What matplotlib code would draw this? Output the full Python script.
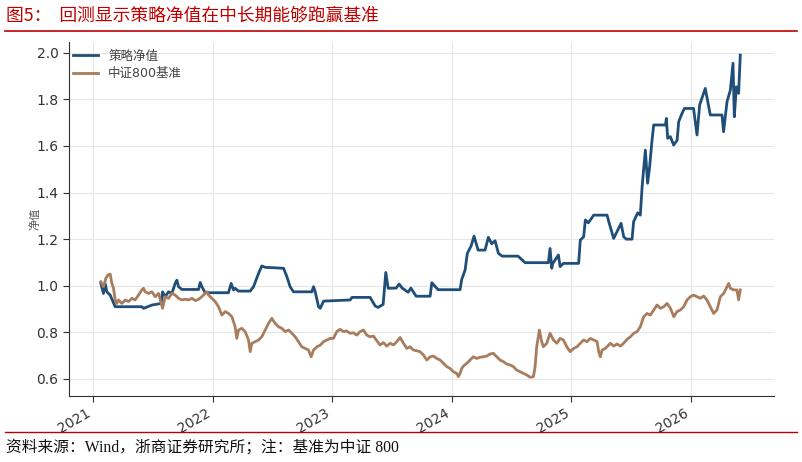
import matplotlib
matplotlib.use("Agg")
import matplotlib.pyplot as plt
import matplotlib.dates as mdates
from matplotlib.lines import Line2D
import pandas as pd

plt.rcParams['font.family'] = ['DejaVu Sans', 'Noto Sans CJK SC']
plt.rcParams['axes.unicode_minus'] = False

# 策略净值 (时间用小数年表示, 从图上读出)
strat_t = [2021.064, 2021.086, 2021.100, 2021.114, 2021.142, 2021.184, 2021.407, 2021.421,
           2021.491, 2021.569, 2021.580, 2021.602, 2021.630, 2021.658, 2021.686, 2021.700,
           2021.714, 2021.742, 2021.882, 2021.895, 2021.909, 2021.937, 2022.132, 2022.155,
           2022.174, 2022.188, 2022.216, 2022.314, 2022.342, 2022.384, 2022.411, 2022.439,
           2022.593, 2022.621, 2022.648, 2022.676, 2022.830, 2022.844, 2022.858, 2022.886,
           2022.900, 2022.928, 2023.151, 2023.167, 2023.318, 2023.360, 2023.385, 2023.427,
           2023.449, 2023.469, 2023.536, 2023.561, 2023.586, 2023.636, 2023.659, 2023.703,
           2023.820, 2023.834, 2023.887, 2024.071, 2024.085, 2024.113, 2024.132, 2024.163,
           2024.188, 2024.222, 2024.280, 2024.308, 2024.336, 2024.364, 2024.392, 2024.423,
           2024.556, 2024.615, 2024.810, 2024.824, 2024.838, 2024.847, 2024.894, 2024.908,
           2024.936, 2025.061, 2025.075, 2025.103, 2025.117, 2025.142, 2025.187, 2025.299,
           2025.313, 2025.354, 2025.416, 2025.438, 2025.460, 2025.508, 2025.521, 2025.555,
           2025.577, 2025.592, 2025.619, 2025.638, 2025.655, 2025.675, 2025.689, 2025.787,
           2025.795, 2025.806, 2025.828, 2025.856, 2025.885, 2025.898, 2025.926, 2025.946,
           2026.023, 2026.052, 2026.074, 2026.121, 2026.163, 2026.261, 2026.274, 2026.303,
           2026.331, 2026.353, 2026.364, 2026.381, 2026.400, 2026.414]
strat_v = [1.010, 0.967, 1.010, 0.974, 0.960, 0.910, 0.910, 0.903,
           0.917, 0.924, 0.974, 0.953, 0.974, 0.967, 1.010, 1.024,
           0.996, 0.984, 0.984, 1.014, 0.996, 0.970, 0.970, 1.010,
           0.982, 0.989, 0.977, 0.977, 0.996, 1.053, 1.085, 1.079,
           1.075, 1.039, 0.996, 0.974, 0.974, 0.996, 0.974, 0.910,
           0.903, 0.934, 0.939, 0.950, 0.950, 0.913, 0.907, 0.920,
           1.057, 0.989, 0.990, 1.007, 0.990, 0.972, 0.990, 0.955,
           0.955, 1.013, 0.983, 0.983, 1.027, 1.067, 1.139, 1.170,
           1.213, 1.153, 1.153, 1.208, 1.180, 1.193, 1.139, 1.127,
           1.127, 1.099, 1.099, 1.160, 1.075, 1.096, 1.132, 1.082,
           1.096, 1.096, 1.196, 1.210, 1.282, 1.270, 1.303, 1.303,
           1.275, 1.203, 1.268, 1.210, 1.200, 1.200, 1.275, 1.313,
           1.303, 1.425, 1.582, 1.440, 1.511, 1.625, 1.690, 1.690,
           1.718, 1.633, 1.640, 1.604, 1.625, 1.704, 1.740, 1.761,
           1.761, 1.647, 1.776, 1.847, 1.733, 1.733, 1.661, 1.790,
           1.840, 1.955, 1.725, 1.854, 1.826, 1.990]

# 中证800基准
bench_t = [2021.064, 2021.086, 2021.106, 2021.123, 2021.142, 2021.156, 2021.170, 2021.184,
           2021.198, 2021.212, 2021.240, 2021.268, 2021.296, 2021.324, 2021.351, 2021.379,
           2021.407, 2021.421, 2021.435, 2021.463, 2021.491, 2021.519, 2021.547, 2021.569,
           2021.580, 2021.602, 2021.630, 2021.658, 2021.686, 2021.714, 2021.742, 2021.770,
           2021.798, 2021.826, 2021.854, 2021.882, 2021.909, 2021.937, 2021.951, 2021.965,
           2021.993, 2022.021, 2022.049, 2022.077, 2022.105, 2022.133, 2022.161, 2022.188,
           2022.202, 2022.216, 2022.244, 2022.272, 2022.300, 2022.314, 2022.328, 2022.356,
           2022.384, 2022.411, 2022.439, 2022.467, 2022.495, 2022.523, 2022.551, 2022.579,
           2022.607, 2022.635, 2022.663, 2022.690, 2022.718, 2022.746, 2022.774, 2022.802,
           2022.824, 2022.844, 2022.872, 2022.900, 2022.928, 2022.955, 2022.983, 2023.011,
           2023.039, 2023.067, 2023.095, 2023.122, 2023.150, 2023.178, 2023.206, 2023.234,
           2023.262, 2023.290, 2023.318, 2023.346, 2023.374, 2023.401, 2023.429, 2023.457,
           2023.485, 2023.513, 2023.541, 2023.569, 2023.597, 2023.625, 2023.652, 2023.680,
           2023.708, 2023.736, 2023.764, 2023.792, 2023.820, 2023.848, 2023.876, 2023.904,
           2023.931, 2023.959, 2023.987, 2024.015, 2024.043, 2024.057, 2024.071, 2024.085,
           2024.099, 2024.127, 2024.155, 2024.182, 2024.210, 2024.238, 2024.266, 2024.294,
           2024.322, 2024.350, 2024.378, 2024.406, 2024.434, 2024.461, 2024.489, 2024.517,
           2024.545, 2024.573, 2024.601, 2024.629, 2024.657, 2024.685, 2024.699, 2024.712,
           2024.735, 2024.754, 2024.768, 2024.796, 2024.824, 2024.838, 2024.852, 2024.880,
           2024.908, 2024.936, 2024.964, 2024.992, 2025.020, 2025.047, 2025.075, 2025.103,
           2025.131, 2025.159, 2025.187, 2025.215, 2025.229, 2025.243, 2025.257, 2025.285,
           2025.326, 2025.354, 2025.382, 2025.410, 2025.438, 2025.466, 2025.494, 2025.522,
           2025.550, 2025.577, 2025.605, 2025.633, 2025.661, 2025.689, 2025.717, 2025.745,
           2025.773, 2025.801, 2025.829, 2025.857, 2025.884, 2025.912, 2025.940, 2025.968,
           2025.996, 2026.024, 2026.052, 2026.080, 2026.107, 2026.135, 2026.163, 2026.191,
           2026.219, 2026.247, 2026.275, 2026.317, 2026.331, 2026.359, 2026.386, 2026.400,
           2026.414]
bench_v = [1.017, 0.996, 1.032, 1.046, 1.050, 1.010, 0.989, 0.939,
           0.924, 0.939, 0.924, 0.939, 0.932, 0.946, 0.939, 0.960,
           0.982, 0.989, 0.974, 0.967, 0.974, 0.953, 0.967, 0.924,
           0.903, 0.953, 0.946, 0.967, 0.960, 0.946, 0.939, 0.942,
           0.939, 0.946, 0.936, 0.942, 0.953, 0.967, 0.974, 0.960,
           0.946, 0.932, 0.910, 0.874, 0.889, 0.881, 0.867, 0.824,
           0.774, 0.810, 0.817, 0.803, 0.767, 0.717, 0.753, 0.760,
           0.767, 0.781, 0.810, 0.838, 0.860, 0.838, 0.824, 0.817,
           0.803, 0.810, 0.796, 0.781, 0.760, 0.738, 0.731, 0.724,
           0.695, 0.724, 0.738, 0.745, 0.760, 0.767, 0.774, 0.774,
           0.803, 0.813, 0.803, 0.806, 0.796, 0.798, 0.788, 0.803,
           0.810, 0.788, 0.781, 0.784, 0.764, 0.746, 0.756, 0.741,
           0.753, 0.746, 0.760, 0.778, 0.753, 0.731, 0.738, 0.724,
           0.721, 0.717, 0.703, 0.681, 0.695, 0.698, 0.688, 0.681,
           0.667, 0.653, 0.645, 0.631, 0.624, 0.610, 0.624, 0.645,
           0.655, 0.667, 0.681, 0.695, 0.688, 0.693, 0.695, 0.698,
           0.707, 0.710, 0.695, 0.681, 0.674, 0.664, 0.660, 0.653,
           0.638, 0.631, 0.624, 0.617, 0.607, 0.610, 0.653, 0.738,
           0.810, 0.760, 0.738, 0.753, 0.796, 0.781, 0.767, 0.753,
           0.774, 0.767, 0.738, 0.717, 0.731, 0.738, 0.753, 0.767,
           0.760, 0.774, 0.767, 0.760, 0.717, 0.695, 0.724, 0.731,
           0.753, 0.741, 0.750, 0.741, 0.753, 0.770, 0.781, 0.796,
           0.803, 0.824, 0.867, 0.881, 0.874, 0.896, 0.917, 0.903,
           0.910, 0.924, 0.903, 0.867, 0.889, 0.896, 0.910, 0.939,
           0.953, 0.960, 0.953, 0.946, 0.956, 0.939, 0.910, 0.881,
           0.896, 0.953, 0.967, 1.010, 0.989, 0.982, 0.982, 0.939,
           0.982]

labels = ['策略净值', '中证800基准']
colors = ['#1f4e79', '#a87d5d']
title = '图5：  回测显示策略净值在中长期能够跑赢基准'
source = '资料来源：Wind，浙商证券研究所；注：基准为中证 800'


def to_dates(years):
    out = []
    for y in years:
        yr = int(y)
        out.append(pd.Timestamp(yr, 1, 1) + pd.Timedelta(days=(y - yr) * 365.25))
    return out


fig = plt.figure(figsize=(8.02, 4.62), dpi=100)
ax = fig.add_axes([0.086, 0.1435, 0.879, 0.766])

ax.plot(to_dates(strat_t), strat_v, color=colors[0], lw=2.0, label=labels[0])
ax.plot(to_dates(bench_t), bench_v, color=colors[1], lw=2.0, label=labels[1])

ax.set_xlim(pd.Timestamp('2020-10-19'), pd.Timestamp('2026-09-12'))
ax.set_ylim(0.528, 2.047)
ax.set_yticks([0.6, 0.8, 1.0, 1.2, 1.4, 1.6, 1.8, 2.0])
ax.xaxis.set_major_locator(mdates.YearLocator())
ax.xaxis.set_major_formatter(mdates.DateFormatter('%Y'))
for lab in ax.get_xticklabels():
    lab.set_rotation(30)
    lab.set_ha('right')

ax.tick_params(labelsize=10, colors='#333333', length=4)
ax.set_ylabel('净值', fontsize=8, color='#555555', labelpad=-3)
ax.grid(True, color='#e6e6e6', lw=0.8)
ax.set_axisbelow(True)
for s in ['top', 'right']:
    ax.spines[s].set_visible(False)
for s in ['left', 'bottom']:
    ax.spines[s].set_color('#333333')

ax.legend(loc='upper left', frameon=False, fontsize=9, handlelength=2.0,
          labelspacing=0.35, bbox_to_anchor=(-0.01, 1.01), labelcolor='#444444')

# 标题、分隔线与来源
fig.text(0.007, 0.966, title, fontsize=12.8, color='#c00000', va='center',
         family=['Noto Sans CJK SC'])
fig.add_artist(Line2D([0.006, 0.994], [0.933, 0.933], color='#c00000', lw=1.2))
fig.add_artist(Line2D([0.006, 0.994], [0.065, 0.065], color='#c00000', lw=1.0))
fig.text(0.007, 0.032, source, fontsize=11.3, color='#111111', va='center',
         family=['Liberation Serif', 'Noto Sans CJK SC'])

fig.savefig('out.png', dpi=100)
